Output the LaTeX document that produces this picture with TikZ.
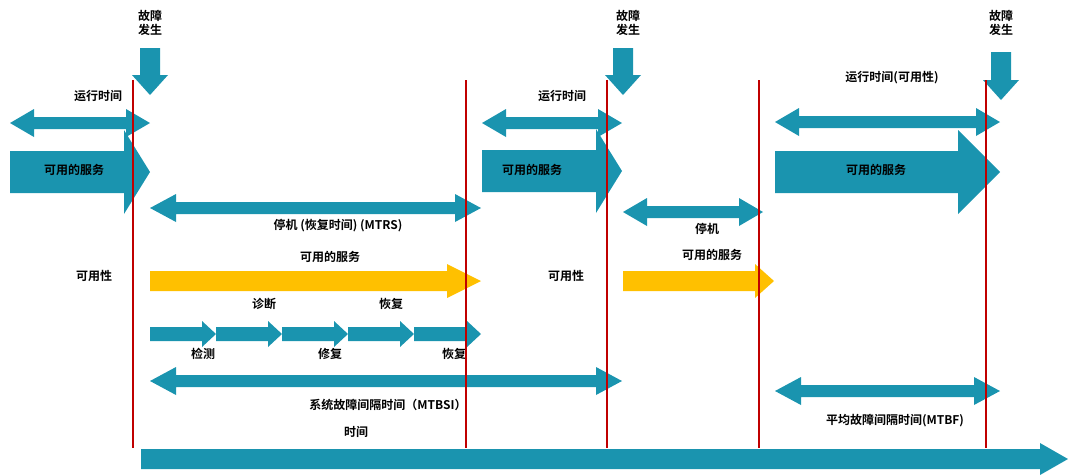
\documentclass[tikz,border=0pt]{standalone}
\usepackage{fontspec}
\setmainfont{Noto Sans CJK SC}[BoldFont={Noto Sans CJK SC Bold}]
\definecolor{teal}{HTML}{1A94AF}
\definecolor{gold}{HTML}{FFC000}
\definecolor{line}{HTML}{C00000}
% block arrow: x1, x2, y, shaft half, head half, head length, colour
\newcommand\blockarr[7]{\fill[#7] (#1,#3-#4) -- (#2-#6,#3-#4) -- (#2-#6,#3-#5) -- (#2,#3) -- (#2-#6,#3+#5) -- (#2-#6,#3+#4) -- (#1,#3+#4) -- cycle;}
% double block arrow: x1, x2, y, shaft half, head half, head length
\newcommand\dblarr[6]{\fill[teal] (#1,#3) -- (#1+#6,#3-#5) -- (#1+#6,#3-#4) -- (#2-#6,#3-#4) -- (#2-#6,#3-#5) -- (#2,#3) -- (#2-#6,#3+#5) -- (#2-#6,#3+#4) -- (#1+#6,#3+#4) -- (#1+#6,#3+#5) -- cycle;}
% down arrow: x, y1, y2
\newcommand\downarr[3]{\fill[teal] (#1-10,#2) -- (#1+10,#2) -- (#1+10,#3-20) -- (#1+18,#3-20) -- (#1,#3) -- (#1-18,#3-20) -- (#1-10,#3-20) -- cycle;}
\begin{document}
\begin{tikzpicture}[x=1pt,y=-1pt,
  lbl/.style={font=\fontsize{12}{14}\selectfont\bfseries,inner sep=0pt}]
\useasboundingbox (0,0) rectangle (1080,475);
% fault events
\foreach \x/\ya/\yb in {150/48/95,623/48/95,1001/52/100}{
  \downarr{\x}{\ya}{\yb}
}
\node[lbl,align=center] (f1) at (150,23) {故障\\发生};
\node[lbl,align=center] (f2) at (628,23) {故障\\发生};
\node[lbl,align=center] (f3) at (1001,23) {故障\\发生};
% run time
\dblarr{10}{150}{123}{6}{14}{24}
\dblarr{482}{622}{123}{6}{14}{24}
\dblarr{775}{1000}{122}{6}{14}{24}
\node[lbl] (run1) at (98,96) {运行时间};
\node[lbl] (run2) at (562,96) {运行时间};
\node[lbl] (run3) at (892,78) {运行时间(可用性)};
% available service
\blockarr{10}{150}{172}{21}{42}{26}{teal}
\blockarr{482}{622}{171}{21}{42}{26}{teal}
\blockarr{775}{1000}{172}{21}{42}{42}{teal}
\node[lbl] (svc1) at (74,170) {可用的服务};
\node[lbl] (svc2) at (532,170) {可用的服务};
\node[lbl] (svc3) at (876,170) {可用的服务};
% downtime
\dblarr{150}{481}{208}{6}{14}{26}
\dblarr{623}{763}{212}{6}{14}{24}
\node[lbl] (down1) at (338,226) {停机 (恢复时间) (MTRS)};
\node[lbl] (down2) at (707,229) {停机};
\node[lbl] (av1) at (94,276) {可用性};
\node[lbl] (av2) at (566,276) {可用性};
% restored service
\blockarr{150}{481}{281}{10}{17}{34}{gold}
\blockarr{623}{774}{281}{10}{17}{19}{gold}
\node[lbl] (ys1) at (330,257) {可用的服务};
\node[lbl] (ys2) at (712,255) {可用的服务};
% recovery steps
\foreach \a/\b in {150/216,216/282,282/348,348/414,414/481}{
  \blockarr{\a}{\b}{334}{7}{13}{14}{teal}
}
\node[lbl] (diag) at (264,304) {诊断};
\node[lbl] (rec1) at (391,304) {恢复};
\node[lbl] (det) at (203,354) {检测};
\node[lbl] (rep) at (330,354) {修复};
\node[lbl] (rec2) at (454,354) {恢复};
% intervals
\dblarr{150}{622}{381}{6}{14}{26}
\dblarr{775}{1000}{391}{6}{14}{26}
\node[lbl] (mtbsi) at (388,405) {系统故障间隔时间（MTBSI）};
\node[lbl] (mtbf) at (895,421) {平均故障间隔时间(MTBF)};
% time axis
\blockarr{141}{1068}{459}{10}{16}{28}{teal}
\node[lbl] (time) at (356,432) {时间};
% fault lines
\foreach \x in {133,466,607,759,986}
  \draw[line,line width=1.2pt] (\x,80) -- (\x,448);
\end{tikzpicture}
\end{document}
